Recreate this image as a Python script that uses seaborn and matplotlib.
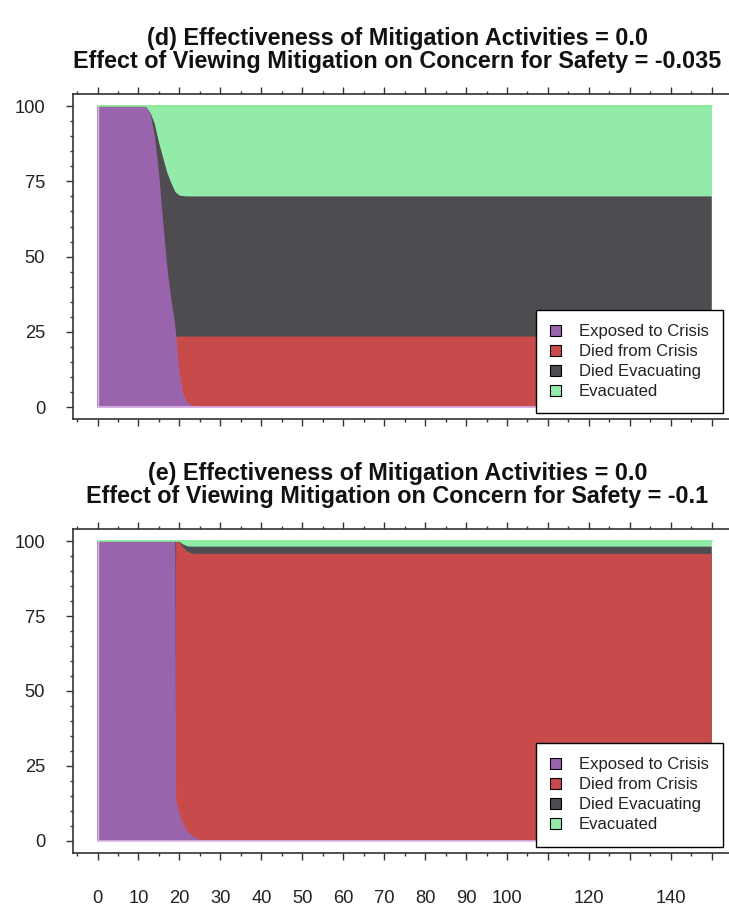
import matplotlib
matplotlib.use("Agg")
import matplotlib.pyplot as plt
from matplotlib.patches import Patch
from matplotlib.ticker import MultipleLocator
import seaborn as sns

# ---- data (percent of population over time) ----
series_names = ["Exposed to Crisis", "Died from Crisis", "Died Evacuating", "Evacuated"]

# panel (d): mitigation effect on concern = -0.035
time_d = [0, 10, 11, 12, 13, 14, 15, 16, 17, 18, 19, 20, 21, 22, 23, 24, 25, 30, 150]
exposed_d = [100, 100, 100, 99.5, 97, 90, 78, 62, 47, 36, 27, 12, 4, 1.5, 0.6, 0.2, 0, 0, 0]
died_crisis_d = [0, 0, 0, 0, 1, 3, 7, 12, 17, 21, 23.3, 23.5, 23.5, 23.5, 23.5, 23.5, 23.5, 23.5, 23.5]
died_evac_d = [100, 100, 100, 99.5, 97.5, 94, 88, 83, 78, 74.5, 71.5, 70.3, 70.1, 70, 70, 70, 70, 70, 70]
evacuated_d = [100] * len(time_d)

# panel (e): mitigation effect on concern = -0.1
time_e = [0, 10, 19, 19.2, 20, 21, 22, 23, 24, 25, 26, 30, 150]
exposed_e = [100, 100, 100, 14, 9, 5.5, 3, 1.8, 1, 0.3, 0, 0, 0]
died_crisis_e = [0, 0, 0, 100, 99.5, 97.8, 96.5, 95.9, 95.8, 95.8, 95.8, 95.8, 95.8]
died_evac_e = [100, 100, 100, 100, 99.8, 98.9, 98.3, 98.2, 98.2, 98.2, 98.2, 98.2, 98.2]
evacuated_e = [100] * len(time_e)

titles = [
    "(d) Effectiveness of Mitigation Activities = 0.0\n"
    "Effect of Viewing Mitigation on Concern for Safety = -0.035",
    "(e) Effectiveness of Mitigation Activities = 0.0\n"
    "Effect of Viewing Mitigation on Concern for Safety = -0.1",
]

x_ticks = list(range(0, 151, 10))
x_tick_labels = ["0", "10", "20", "30", "40", "50", "60", "70", "80", "90", "100",
                 "", "120", "", "140", ""]
y_ticks = [0, 25, 50, 75, 100]

fills = ["#9a64ad", "#c84a4a", "#4e4c50", "#92eba9"]
edges = ["#d9b6ea", "#c84a4a", "#4e4c50", "#7fe88f"]

sns.set_theme(style="ticks")
plt.rcParams["font.family"] = ["Liberation Sans", "DejaVu Sans"]

fig = plt.figure(figsize=(7.29, 9.11), dpi=100)
ax_d = fig.add_axes([0.1001, 0.5397, 0.9099, 0.3571])
ax_e = fig.add_axes([0.1001, 0.0640, 0.9099, 0.3550])

panels = [
    (ax_d, time_d, [exposed_d, died_crisis_d, died_evac_d, evacuated_d], titles[0]),
    (ax_e, time_e, [exposed_e, died_crisis_e, died_evac_e, evacuated_e], titles[1]),
]

for i, (ax, t, vals, title) in enumerate(panels):
    # drawn back to front: evacuated, died evacuating, died from crisis, exposed
    for k in [3, 2, 1, 0]:
        ax.fill_between(t, 0, vals[k], facecolor=fills[k], edgecolor="none", lw=0)
    # light outlines: top of the evacuated band, base and left side of exposed
    sns.lineplot(x=t, y=vals[3], ax=ax, color=edges[3], lw=1.2, legend=False)
    sns.lineplot(x=[t[0], t[-1]], y=[0, 0], ax=ax, color=edges[0], lw=1.2, legend=False)
    ax.plot([t[0], t[0]], [0, vals[0][0]], color=edges[0], lw=1)

    ax.set_xlim(-6, 156)
    ax.set_ylim(-4, 104)
    ax.set_xticks(x_ticks)
    ax.xaxis.set_minor_locator(MultipleLocator(5))
    ax.set_yticks(y_ticks)
    ax.yaxis.set_minor_locator(MultipleLocator(5))
    ax.set_yticklabels([str(v) for v in y_ticks])
    ax.tick_params(axis="both", which="major", length=5, width=1, color="#333333",
                   direction="out", labelsize=13.2, labelcolor="#222222")
    ax.tick_params(axis="both", which="minor", length=2.5, width=1, color="#333333",
                   direction="out")
    ax.tick_params(axis="x", which="both", top=True, bottom=True)
    ax.tick_params(axis="y", which="major", pad=15)
    if i == 1:
        ax.set_xticklabels(x_tick_labels)
        ax.tick_params(axis="x", which="major", pad=22)
    else:
        ax.set_xticklabels([])
    for side in ["top", "left", "bottom", "right"]:
        ax.spines[side].set_linewidth(1.2)
        ax.spines[side].set_color("#333333")
    ax.set_xlabel("")
    ax.set_ylabel("")

    ax.set_title(title, fontsize=16.8, fontweight="bold", pad=19, linespacing=1.0,
                 color="#111111", x=0.489)

    handles = [Patch(facecolor=fills[k], edgecolor="black", linewidth=0.8,
                     label=series_names[k]) for k in range(4)]
    leg = ax.legend(handles=handles, loc="lower right", bbox_to_anchor=(0.980, 0.019),
                    borderaxespad=0, frameon=True, fancybox=False, framealpha=1,
                    edgecolor="black", fontsize=12, handlelength=0.65,
                    handleheight=0.65, handletextpad=1.1, labelspacing=0.3,
                    borderpad=0.85)
    leg.get_frame().set_linewidth(1.0)
    for txt in leg.get_texts():
        txt.set_color("#222222")

fig.savefig("out.png", dpi=100)
